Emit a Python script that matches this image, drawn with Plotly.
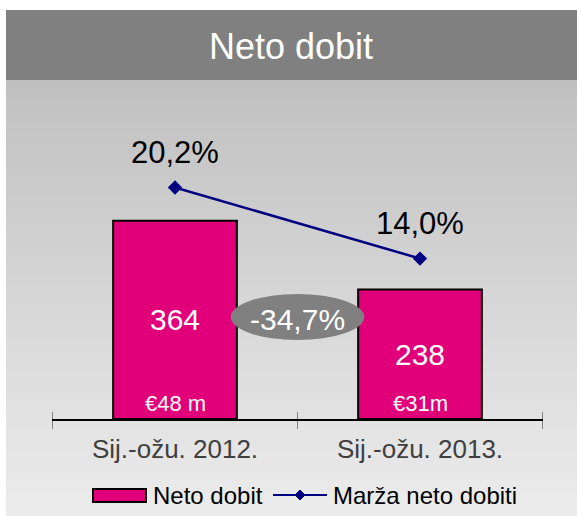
import plotly.graph_objects as go

# ---- data ----
categories = ["Sij.-ožu. 2012.", "Sij.-ožu. 2013."]
neto_dobit = [364, 238]
eur_labels = ["€48 m", "€31m"]
marza = [20.2, 14.0]
marza_labels = ["20,2%", "14,0%"]
change_label = "-34,7%"
title_text = "Neto dobit"
legend_names = ["Neto dobit", "Marža neto dobiti"]

MAGENTA = "#e2007a"
NAVY = "#000080"
FONT = "Liberation Sans, Arial, sans-serif"

W, H = 577, 516
L, R, T, B = 52, 34, 100, 97
PW = W - L - R
PH = H - T - B


def px(xp):
    return (xp - L) / PW


def py(yp):
    return (H - B - yp) / PH


fig = go.Figure()

fig.add_trace(go.Bar(
    x=categories, y=neto_dobit, width=0.505,
    marker=dict(color=MAGENTA, line=dict(color="black", width=2)),
    text=[str(v) for v in neto_dobit], textposition="inside",
    insidetextanchor="middle", textangle=0,
    textfont=dict(color="white", size=30, family=FONT),
    name=legend_names[0], showlegend=False, hoverinfo="skip",
))

fig.add_trace(go.Scatter(
    x=categories, y=marza, yaxis="y2", mode="lines+markers",
    line=dict(color=NAVY, width=2.5),
    marker=dict(symbol="diamond", size=11, color=NAVY),
    name=legend_names[1], showlegend=False, hoverinfo="skip",
))

shapes = []
# gradient background
n = 60
y_top, y_bot = 80, 516
for i in range(n):
    a = y_top + (y_bot - y_top) * i / n
    b = y_top + (y_bot - y_top) * (i + 1) / n + 2
    t = (i + 0.5) / n
    c = int(round(192 + (236 - 192) * t))
    shapes.append(dict(type="rect", xref="paper", yref="paper",
                       x0=px(6), x1=px(580), y0=py(min(b, 520)), y1=py(a),
                       fillcolor=f"rgb({c},{c},{c})", line=dict(width=0),
                       layer="below"))
# title bar
shapes.append(dict(type="rect", xref="paper", yref="paper",
                   x0=px(6), x1=px(580), y0=py(80), y1=py(10),
                   fillcolor="#808080", line=dict(width=0), layer="below"))
# ticks above the axis line
for xb in [-0.5, 0.5, 1.5]:
    shapes.append(dict(type="line", xref="x", yref="paper",
                       x0=xb, x1=xb, y0=0, y1=7 / PH,
                       line=dict(color="#808080", width=1)))
# ellipse for change
shapes.append(dict(type="circle", xref="x", yref="paper",
                   x0=0.5 - 67 / 245.5, x1=0.5 + 67 / 245.5,
                   y0=py(340), y1=py(294),
                   fillcolor="#808080", line=dict(width=0)))
# custom legend
shapes.append(dict(type="rect", xref="paper", yref="paper",
                   x0=px(93), x1=px(146), y0=py(502), y1=py(489),
                   fillcolor=MAGENTA, line=dict(color="black", width=2)))
shapes.append(dict(type="line", xref="paper", yref="paper",
                   x0=px(273), x1=px(327), y0=py(495), y1=py(495),
                   line=dict(color=NAVY, width=2)))
cx, cy = px(300), py(495)
dx, dy = 5 / PW, 5 / PH
shapes.append(dict(type="path", xref="paper", yref="paper",
                   path=f"M {cx-dx},{cy} L {cx},{cy+dy} L {cx+dx},{cy} L {cx},{cy-dy} Z",
                   fillcolor=NAVY, line=dict(color=NAVY, width=1)))

annotations = []
annotations.append(dict(text=title_text, xref="paper", yref="paper",
                        x=px(291), y=py(47), xanchor="center", yanchor="middle",
                        showarrow=False,
                        font=dict(color="white", size=36, family=FONT)))
for c, lab in zip(categories, eur_labels):
    annotations.append(dict(text=lab, x=c, y=0, xref="x", yref="y",
                            yshift=16, xanchor="center", yanchor="middle",
                            showarrow=False,
                            font=dict(color="white", size=22, family=FONT)))
for c, v, lab in zip(categories, marza, marza_labels):
    annotations.append(dict(text=lab, x=c, y=v, xref="x", yref="y2",
                            yshift=35, xanchor="center", yanchor="middle",
                            showarrow=False,
                            font=dict(color="black", size=31, family=FONT)))
annotations.append(dict(text=change_label, xref="x", yref="paper",
                        x=0.5, y=py(319), xanchor="center", yanchor="middle",
                        showarrow=False,
                        font=dict(color="white", size=30, family=FONT)))
annotations.append(dict(text=legend_names[0], xref="paper", yref="paper",
                        x=px(151), y=py(495), xanchor="left", yanchor="middle",
                        showarrow=False,
                        font=dict(color="black", size=24, family=FONT)))
annotations.append(dict(text=legend_names[1], xref="paper", yref="paper",
                        x=px(331), y=py(495), xanchor="left", yanchor="middle",
                        showarrow=False,
                        font=dict(color="black", size=24, family=FONT)))

fig.update_layout(
    width=W, height=H,
    margin=dict(l=L, r=R, t=T, b=B, pad=0),
    paper_bgcolor="white", plot_bgcolor="rgba(0,0,0,0)",
    showlegend=False,
    shapes=shapes, annotations=annotations,
    xaxis=dict(showline=True, linecolor="black", linewidth=1.5,
               ticks="outside", ticklen=8, tickcolor="#808080", tickwidth=1,
               tickson="boundaries", showgrid=False, zeroline=False,
               tickfont=dict(size=26, color="#404040", family=FONT),
               ticklabelstandoff=6, fixedrange=True),
    yaxis=dict(range=[0, PH / 0.5445], visible=False, fixedrange=True),
    yaxis2=dict(range=[0, PH / 11.46], overlaying="y", visible=False,
                fixedrange=True),
    font=dict(family=FONT),
)

fig.write_html(
    "out.html",
    config={"displayModeBar": False},
    post_script="document.body.style.margin='0';document.body.style.padding='0';",
)
